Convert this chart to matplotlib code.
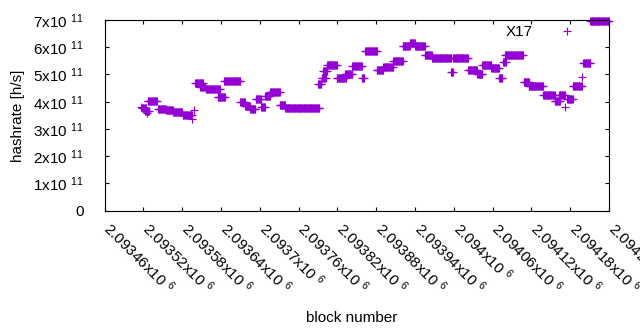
import matplotlib
matplotlib.use("Agg")
import matplotlib.pyplot as plt
import matplotlib.transforms as mtransforms
import numpy as np

plt.rcParams["font.family"] = ["Liberation Sans", "DejaVu Sans"]
plt.rcParams["mathtext.fontset"] = "custom"
plt.rcParams["mathtext.rm"] = "Liberation Sans"
plt.rcParams["mathtext.it"] = "Liberation Sans:italic"
plt.rcParams["mathtext.bf"] = "Liberation Sans:bold"
plt.rcParams["font.size"] = 11

# runs of blocks sharing one hashrate estimate (value in 1e11 h/s)
seg_start = [2093516, 2093518, 2093523, 2093526, 2093527, 2093543, 2093555, 2093566,
             2093581, 2093595, 2093598, 2093600, 2093608, 2093617, 2093635, 2093645,
             2093670, 2093677, 2093685, 2093694, 2093702, 2093708, 2093716, 2093731,
             2093739, 2093790, 2093796, 2093798, 2093804, 2093819, 2093832, 2093843,
             2093858, 2093863, 2093881, 2093891, 2093906, 2093921, 2093932, 2093940,
             2093955, 2093966, 2093996, 2093999, 2094022, 2094036, 2094044, 2094058,
             2094070, 2094076, 2094079, 2094108, 2094116, 2094138, 2094156, 2094163,
             2094172, 2094175, 2094184, 2094199, 2094200, 2094211]
seg_end = [2093516, 2093524, 2093529, 2093526, 2093541, 2093555, 2093566, 2093580,
           2093595, 2093595, 2093598, 2093612, 2093615, 2093638, 2093646, 2093670,
           2093677, 2093685, 2093693, 2093702, 2093708, 2093716, 2093731, 2093739,
           2093792, 2093795, 2093802, 2093804, 2093819, 2093833, 2093843, 2093858,
           2093861, 2093881, 2093891, 2093906, 2093921, 2093932, 2093940, 2093955,
           2093966, 2093996, 2093999, 2094022, 2094036, 2094044, 2094058, 2094070,
           2094075, 2094080, 2094107, 2094116, 2094138, 2094156, 2094164, 2094172,
           2094172, 2094184, 2094198, 2094199, 2094211, 2094240]
seg_value = [3.82, 3.78, 3.67, 3.59, 4.03, 3.73, 3.68, 3.61,
             3.53, 3.37, 3.70, 4.69, 4.54, 4.45, 4.19, 4.76,
             3.99, 3.84, 3.75, 4.10, 3.79, 4.21, 4.36, 3.88,
             3.76, 4.65, 4.87, 5.13, 5.35, 4.87, 5.02, 5.31,
             4.87, 5.86, 5.16, 5.28, 5.50, 6.05, 6.14, 6.05,
             5.72, 5.61, 5.09, 5.61, 5.16, 5.02, 5.35, 5.24,
             4.87, 5.46, 5.72, 4.73, 4.58, 4.25, 4.03, 4.25,
             3.81, 4.10, 4.58, 4.91, 5.42, 6.98]

x_ticks = [2093460, 2093520, 2093580, 2093640, 2093700, 2093760, 2093820,
           2093880, 2093940, 2094000, 2094060, 2094120, 2094180, 2094240]
x_tick_text = ["2.09346", "2.09352", "2.09358", "2.09364", "2.0937", "2.09376", "2.09382",
               "2.09388", "2.09394", "2.094", "2.09406", "2.09412", "2.09418", "2.09424"]
y_ticks = [0, 1e11, 2e11, 3e11, 4e11, 5e11, 6e11, 7e11]
y_tick_text = ["0", "1x10 $^{11}$", "2x10 $^{11}$", "3x10 $^{11}$", "4x10 $^{11}$",
               "5x10 $^{11}$", "6x10 $^{11}$", "7x10 $^{11}$"]

blocks = []
rates = []
for s, e, v in zip(seg_start, seg_end, seg_value):
    b = np.arange(s, e + 1)
    blocks.append(b)
    rates.append(np.full(len(b), v * 1e11))
blocks = np.concatenate(blocks)
rates = np.concatenate(rates)

fig = plt.figure(figsize=(6.4, 3.3), dpi=100)
ax = fig.add_axes([104.5 / 640, 1 - 210.7 / 330, 504.5 / 640, 190.7 / 330])

ax.plot(blocks, rates, "+", color="#9400d3", ms=5.5, mew=0.85, label="X17", clip_on=False)

ax.set_xlim(2093460, 2094240)
ax.set_ylim(0, 7e11)
ax.set_xticks(x_ticks)
ax.set_xticklabels([t + "x10 $^{6}$" for t in x_tick_text], rotation=-45,
                   ha="left", va="top", rotation_mode="anchor")
ax.set_yticks(y_ticks)
ax.set_yticklabels(y_tick_text)
ax.tick_params(direction="in", length=3, width=0.8, top=True, right=True)
ax.tick_params(axis="y", pad=15)
ax.tick_params(axis="x", pad=7)
shift = mtransforms.ScaledTranslation(9 / 100, 2 / 100, fig.dpi_scale_trans)
for lbl in ax.get_xticklabels():
    lbl.set_transform(lbl.get_transform() + shift)
for sp in ax.spines.values():
    sp.set_linewidth(0.8)

ax.set_xlabel("block number")
ax.set_ylabel("hashrate [h/s]")
ax.xaxis.set_label_coords(0.49, -0.525)
ax.yaxis.set_label_coords(-0.157, 0.5)

ax.legend(loc="upper right", bbox_to_anchor=(582 / 640, 1 - 25 / 330),
          bbox_transform=fig.transFigure, markerfirst=False, frameon=False,
          borderpad=0, borderaxespad=0, handlelength=2, handletextpad=1.2,
          markerscale=1.1)

fig.savefig("out.png", dpi=100)
